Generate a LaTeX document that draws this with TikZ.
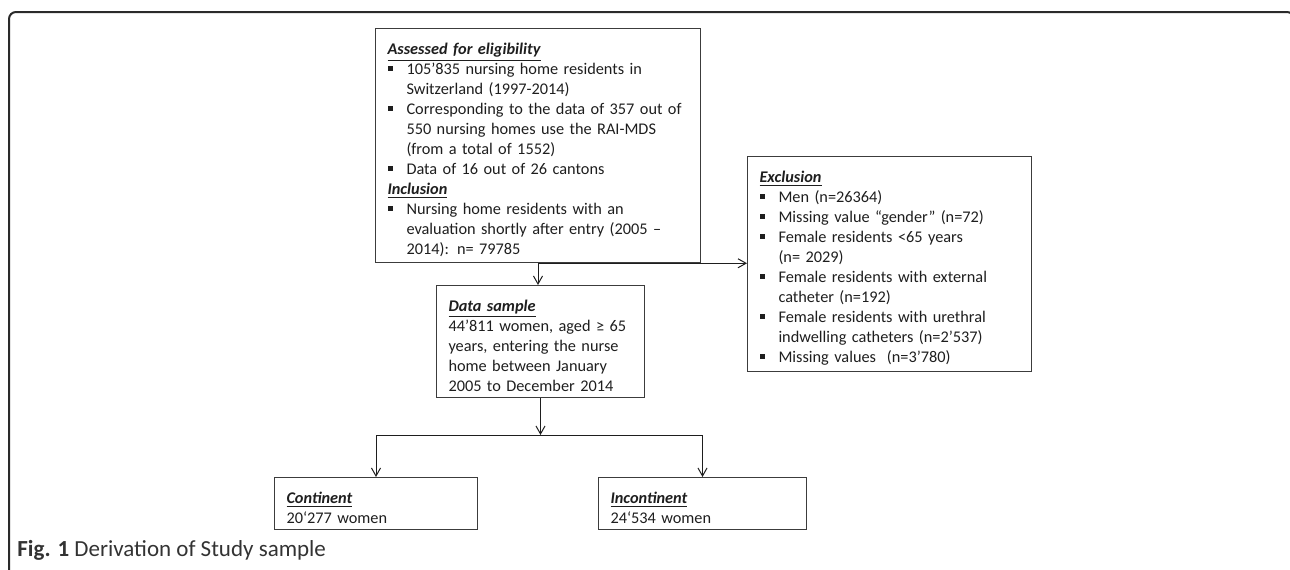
\documentclass[tikz,border=0pt]{standalone}
\usepackage{fontspec}
\setmainfont{Carlito}
\usetikzlibrary{arrows.meta}
\definecolor{boxline}{HTML}{3C3C3C}
\definecolor{ink}{HTML}{1E1E1E}
\definecolor{frameline}{HTML}{2A2A2A}
\definecolor{captext}{HTML}{333333}
\newcommand\head[1]{\par\noindent\underline{\textbf{\textit{#1}}}\par}
\newcommand\bul[1]{\par\noindent\hangindent=9.5pt\hangafter=1%
  \makebox[9.5pt][l]{\hspace{0.4pt}\raisebox{1.8pt}{\rule{2.5pt}{2.5pt}}}#1\par}

\begin{document}
\begin{tikzpicture}[
                  x = 0.5pt,
                  y = -0.5pt,
     flowbox/.style = {draw=boxline, line width=0.5pt, text=ink, inner xsep=6pt,
                       inner ysep=3pt, align=left, anchor=north west,
                       font=\fontsize{8.15}{10}\selectfont},
   flowarrow/.style = {draw=ink, line width=0.5pt,
                       -{Straight Barb[length=4pt,width=4.5pt]}},
                   ]
\useasboundingbox (0,0) rectangle (1290,569);
% outer frame of the figure
\draw[frameline, line width=1pt, rounded corners=3.5pt] (9,600) -- (9,12) -- (1294,12) -- (1294,600);

\node[flowbox, text width=150.5pt, minimum height=116.5pt] (assessed) at (375,28) {%
  \head{Assessed for eligibility}
  \bul{105’835 nursing home residents in\newline Switzerland (1997-2014)}
  \bul{Corresponding to the data of 357 out of\newline 550 nursing homes use the RAI-MDS\newline (from a total of 1552)}
  \bul{Data of 16 out of 26 cantons}
  \head{Inclusion}
  \bul{Nursing home residents with an\newline evaluation shortly after entry (2005 –\newline 2014): n= 79785}};
\node[flowbox, text width=130pt, minimum height=106pt] (exclusion) at (747,156) {%
  \head{Exclusion}
  \bul{Men (n=26364)}
  \bul{Missing value “gender” (n=72)}
  \bul{Female residents <65 years\newline (n= 2029)}
  \bul{Female residents with external\newline catheter (n=192)}
  \bul{Female residents with urethral\newline indwelling catheters (n=2’537)}
  \bul{Missing values\ \ (n=3’780)}};
\node[flowbox, text width=92pt, minimum height=56pt] (sample) at (436,285) {%
  \head{Data sample}
  44’811 women, aged ≥ 65\newline years, entering the nurse\newline home between January\newline 2005 to December 2014};
\node[flowbox, text width=89.5pt, minimum height=26pt] (continent) at (274,477) {%
  \head{Continent}
  20‘277 women};
\node[flowbox, text width=92pt, minimum height=26pt] (incontinent) at (598,477) {%
  \head{Incontinent}
  24‘534 women};
\coordinate (split) at (sample.south |- 0,435);

\draw[flowarrow] (assessed.south) -- (assessed.south |- sample.north);
\draw[flowarrow] (assessed.south) -- (assessed.south -| exclusion.west);
\draw[flowarrow] (sample.south) -- (split);
\draw[draw=ink, line width=0.5pt] (continent.north |- split) -- (incontinent.north |- split);
\draw[flowarrow] (continent.north |- split) -- (continent.north);
\draw[flowarrow] (incontinent.north |- split) -- (incontinent.north);

\node[anchor=base west, inner sep=0pt, text=captext, font=\fontsize{11.5}{13}\selectfont]
  (caption) at (17,556) {\textbf{Fig. 1} Derivation of Study sample};
\end{tikzpicture}
\end{document}
